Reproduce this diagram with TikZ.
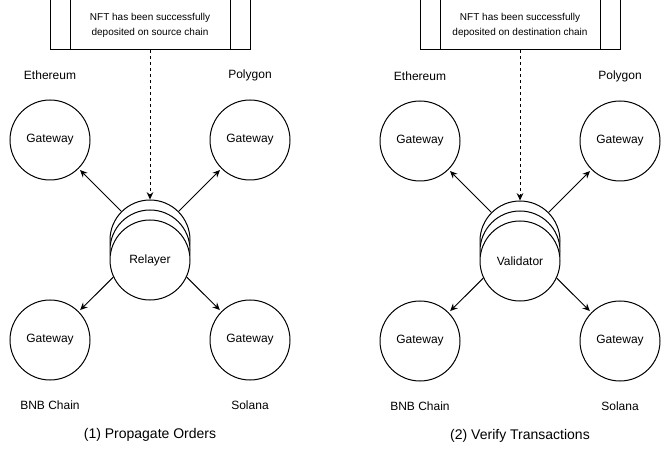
\documentclass[tikz,border=0pt]{standalone}
\usepackage{fontspec}
\setmainfont{Liberation Sans}
\usetikzlibrary{arrows.meta}

\tikzset{
  gateway/.style={draw, circle, minimum size=60pt, inner sep=0pt, font=\fontsize{9}{11}\selectfont},
  stack/.style={draw, circle, minimum size=60pt, inner sep=0pt, fill=white, font=\fontsize{9}{11}\selectfont},
  chain/.style={font=\fontsize{9}{11}\selectfont},
  event/.style={draw, minimum width=150pt, minimum height=37.5pt, inner sep=0pt, align=center, font=\fontsize{7.5}{11.25}\selectfont},
  caption/.style={font=\fontsize{10.5}{13}\selectfont},
  push/.style={-{Stealth[length=5.5pt, width=5pt]}, shorten >=1.5pt},
  notify/.style={push, dash pattern=on 2.25pt off 2.25pt, shorten >=0pt},
}

\begin{document}
\begin{tikzpicture}[x=0.75pt, y=-0.75pt, line width=0.75pt]
\useasboundingbox (0,0) rectangle (671,452);

\node[event] (srcbox) at (150,25) {NFT has been successfully\\deposited on source chain};
\draw ([xshift=15.75pt]srcbox.north west) -- ([xshift=15.75pt]srcbox.south west);
\draw ([xshift=-15pt]srcbox.north east) -- ([xshift=-15pt]srcbox.south east);
\node[stack] (relayer3) at (150,240) {};
\node[stack] (relayer2) at (150,250) {};
\node[stack] (relayer) at (150,260) {Relayer};
\node[gateway] (eth1) at (50,140) {Gateway};
\node[gateway] (poly1) at (250,140) {Gateway};
\node[gateway] (bnb1) at (50,340) {Gateway};
\node[gateway] (sol1) at (250,340) {Gateway};
\node[chain] (eth1-name) at (50,75) {Ethereum};
\node[chain] (poly1-name) at (250,75) {Polygon};
\node[chain] (bnb1-name) at (50,405) {BNB Chain};
\node[chain] (sol1-name) at (250,405) {Solana};
\node[caption] (propagate) at (150,435) {(1) Propagate Orders};
\draw[notify] (srcbox.south) -- (relayer3.north);
\draw[push] (relayer3.135) -- (eth1);
\draw[push] (relayer3.45) -- (poly1);
\draw[push] (relayer.205) -- (bnb1);
\draw[push] (relayer.-25) -- (sol1);

\node[event] (dstbox) at (520,25) {NFT has been successfully\\deposited on destination chain};
\draw ([xshift=15.75pt]dstbox.north west) -- ([xshift=15.75pt]dstbox.south west);
\draw ([xshift=-15pt]dstbox.north east) -- ([xshift=-15pt]dstbox.south east);
\node[stack] (validator3) at (520,241) {};
\node[stack] (validator2) at (520,251) {};
\node[stack] (validator) at (520,261) {Validator};
\node[gateway] (eth2) at (420,141) {Gateway};
\node[gateway] (poly2) at (620,141) {Gateway};
\node[gateway] (bnb2) at (420,341) {Gateway};
\node[gateway] (sol2) at (620,341) {Gateway};
\node[chain] (eth2-name) at (420,76) {Ethereum};
\node[chain] (poly2-name) at (620,76) {Polygon};
\node[chain] (bnb2-name) at (420,406) {BNB Chain};
\node[chain] (sol2-name) at (620,406) {Solana};
\node[caption] (verify) at (520,436) {(2) Verify Transactions};
\draw[notify] (dstbox.south) -- (validator3.north);
\draw[push] (validator3.135) -- (eth2);
\draw[push] (validator3.45) -- (poly2);
\draw[push] (validator.205) -- (bnb2);
\draw[push] (validator.-25) -- (sol2);
\end{tikzpicture}
\end{document}
